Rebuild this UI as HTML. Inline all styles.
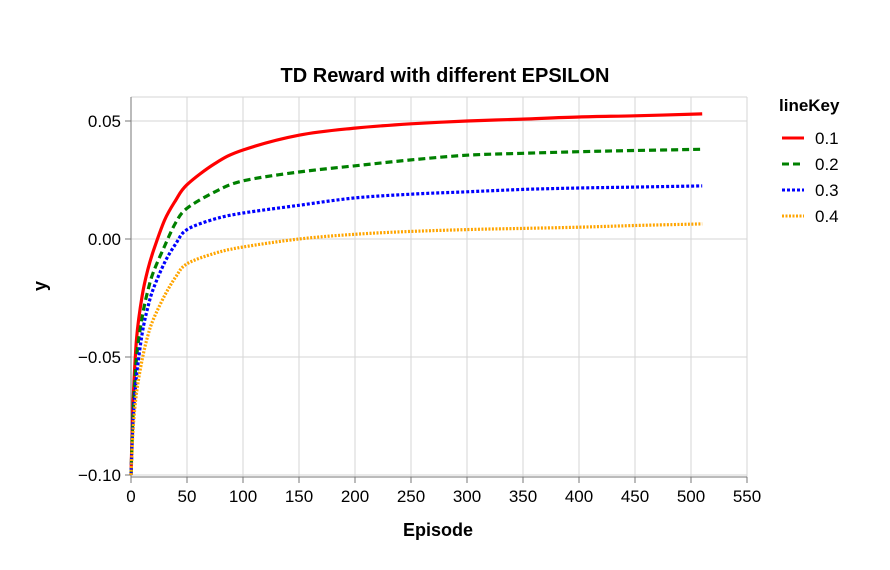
<!DOCTYPE html>
<html><head><meta charset="utf-8"><style>
body{margin:0;background:#fff;}
svg{display:block;font-family:"Liberation Sans",sans-serif;}
</style></head><body>
<svg id="chart" width="890" height="570">
<rect x="0" y="0" width="890" height="570" fill="#fff"/>
<text x="445" y="82" text-anchor="middle" font-size="20" font-weight="bold">TD Reward with different EPSILON</text>
<g id="grid"></g><g id="axes"></g><g id="lines"></g><g id="legend"></g>
<text x="438" y="536" text-anchor="middle" font-size="18" font-weight="bold">Episode</text>
<text transform="translate(46,286) rotate(-90)" text-anchor="middle" font-size="18" font-weight="bold">y</text>
</svg>
<script>
const xs=[0,2,5,10,15,20,30,40,50,75,100,150,200,250,300,350,400,450,510];
const s01=[-0.1,-0.068,-0.042,-0.024,-0.013,-0.005,0.008,0.0165,0.023,0.032,0.0377,0.044,0.047,0.0488,0.050,0.0508,0.0517,0.0522,0.053];
const s02=[-0.1,-0.073,-0.05,-0.033,-0.022,-0.014,-0.003,0.007,0.013,0.02,0.0246,0.0284,0.031,0.0335,0.0355,0.0363,0.037,0.0375,0.038];
const s03=[-0.1,-0.076,-0.058,-0.04,-0.029,-0.021,-0.01,-0.002,0.004,0.0085,0.011,0.0143,0.0174,0.019,0.020,0.021,0.0216,0.022,0.0225];
const s04=[-0.1,-0.08,-0.065,-0.051,-0.041,-0.034,-0.024,-0.016,-0.0105,-0.006,-0.0034,0,0.002,0.0032,0.004,0.0045,0.005,0.0057,0.0064];
const keys=["0.1","0.2","0.3","0.4"];
const xTicks=[0,50,100,150,200,250,300,350,400,450,500,550];
const yTicks=[-0.10,-0.05,0.00,0.05];
const yTickLabels=["\u22120.10","\u22120.05","0.00","0.05"];
const NS="http://www.w3.org/2000/svg";
const L=131,R=747,T=97,B=477;
const X=v=>L+(v/550)*(R-L);
const Y=v=>239-v*2360;
function mk(tag,attrs,parent){const e=document.createElementNS(NS,tag);for(const k in attrs)e.setAttribute(k,attrs[k]);parent.appendChild(e);return e;}
const grid=document.getElementById('grid'),axes=document.getElementById('axes'),lines=document.getElementById('lines'),legend=document.getElementById('legend');
xTicks.forEach(t=>{const g=mk('line',{x1:X(t),x2:X(t),y1:T,y2:B,stroke:'#d6d6d6'},grid);

mk('line',{x1:X(t),x2:X(t),y1:B,y2:B+6,stroke:'#777'},axes);
const tx=mk('text',{x:X(t),y:B+25,'text-anchor':'middle','font-size':17},axes);tx.textContent=t;
});
yTicks.forEach((t,i)=>{const g=mk('line',{x1:L,x2:R,y1:Y(t),y2:Y(t),stroke:'#d6d6d6'},grid);

mk('line',{x1:L-6,x2:L,y1:Y(t),y2:Y(t),stroke:'#777'},axes);
const tx=mk('text',{x:L-10,y:Y(t)+6,'text-anchor':'end','font-size':17},axes);tx.textContent=yTickLabels[i];
});
mk('line',{x1:L,x2:R,y1:T,y2:T,stroke:'#d6d6d6'},grid);
mk('line',{x1:L,x2:R,y1:B,y2:B,stroke:'#777'},axes);
mk('line',{x1:L,x2:L,y1:T,y2:B,stroke:'#777'},axes);
const series=[s01,s02,s03,s04];
const styles=[{c:'red',d:''},{c:'green',d:'7,4'},{c:'blue',d:'3,2'},{c:'orange',d:'2,1.5'}];
function smooth(pts){let d='M'+pts[0][0]+','+pts[0][1];
for(let i=0;i<pts.length-1;i++){const p0=pts[i-1]||pts[i],p1=pts[i],p2=pts[i+1],p3=pts[i+2]||p2;
const c1=[p1[0]+(p2[0]-p0[0])/6,p1[1]+(p2[1]-p0[1])/6],c2=[p2[0]-(p3[0]-p1[0])/6,p2[1]-(p3[1]-p1[1])/6];
d+='C'+c1[0].toFixed(1)+','+c1[1].toFixed(1)+' '+c2[0].toFixed(1)+','+c2[1].toFixed(1)+' '+p2[0].toFixed(1)+','+p2[1].toFixed(1);}
return d;}
series.forEach((s,i)=>{
const pts=s.map((v,j)=>[X(xs[j]),Y(v)]);
const p=mk('path',{d:smooth(pts),fill:'none',stroke:styles[i].c,'stroke-width':3.2,'stroke-dasharray':styles[i].d||'none'},lines);

const ly=138+i*26;
const e=mk('g',{},legend);

mk('line',{x1:782,x2:804,y1:ly,y2:ly,stroke:styles[i].c,'stroke-width':3,'stroke-dasharray':styles[i].d||'none'},e);
const t=mk('text',{x:815,y:ly+6,'font-size':17},e);t.textContent=keys[i];
});
const lt=mk('text',{x:779,y:111,'font-size':17,'font-weight':'bold'},legend);lt.textContent='lineKey';

</script>
</body></html>
